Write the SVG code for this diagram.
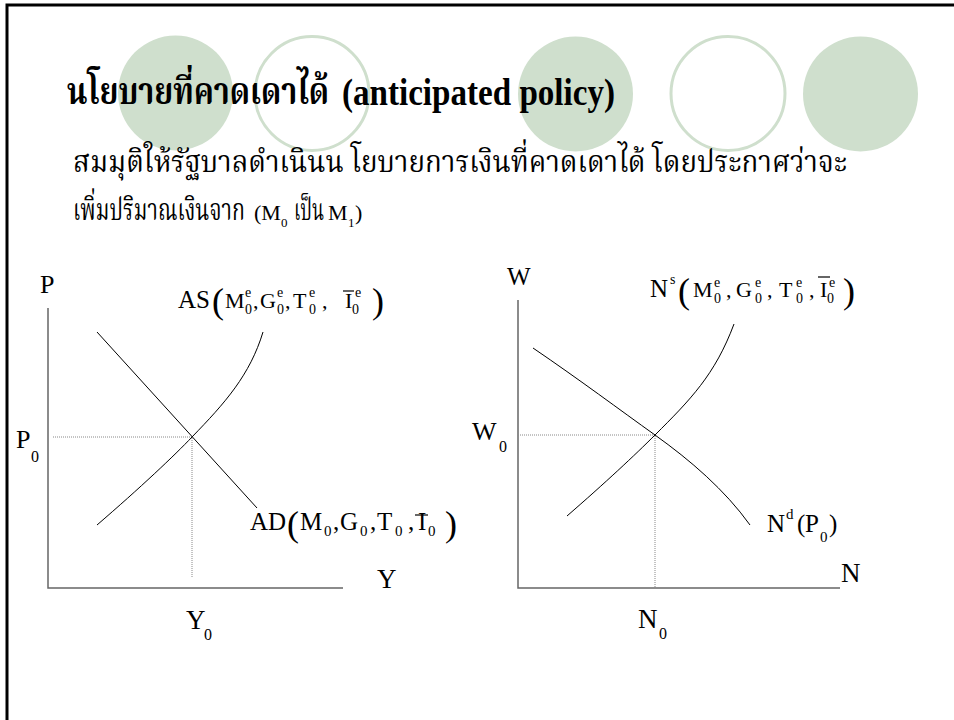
<svg xmlns="http://www.w3.org/2000/svg" width="954" height="720" viewBox="0 0 954 720">
<style>
.t{font-family:"Liberation Serif","Noto Serif Thai","Noto Sans Thai","DejaVu Serif",serif;fill:#000}
.l{font-family:"Liberation Serif","Times New Roman",serif;fill:#000}
.b{font-weight:bold}
.s{font-size:14px}
.m{font-size:22px}
.p{font-size:36px}
.ax{stroke:#666;stroke-width:1.5;fill:none}
.cv{stroke:#000;stroke-width:1;fill:none}
.dt{stroke:#888;stroke-width:1;stroke-dasharray:1 1;fill:none}
.ov{stroke:#000;stroke-width:1.2}
</style>
<rect width="954" height="720" fill="#fff"/>
<path d="M7,720 V5 H954" fill="none" stroke="#000" stroke-width="3"/>
<g id="decor">
<circle cx="175.5" cy="93" r="57.5" fill="#cfdfcd"/>
<circle cx="312" cy="93.5" r="57" fill="none" stroke="#cfdfcd" stroke-width="3"/>
<circle cx="575.5" cy="94" r="57.5" fill="#cfdfcd"/>
<circle cx="728" cy="93.5" r="57" fill="none" stroke="#cfdfcd" stroke-width="3"/>
<circle cx="860.5" cy="94" r="57.5" fill="#cfdfcd"/>
</g>
<g id="title">
<text class="t b" x="67" y="104" font-size="37" textLength="262" lengthAdjust="spacingAndGlyphs">นโยบายที่คาดเดาได้</text>
<text class="l b" x="342" y="105" font-size="37" textLength="273" lengthAdjust="spacingAndGlyphs">(anticipated policy)</text>
</g>
<g id="body">
<text class="t" x="73" y="172" font-size="31" textLength="774" lengthAdjust="spacingAndGlyphs">สมมุติให้รัฐบาลดำเนินน โยบายการเงินที่คาดเดาได้ โดยประกาศว่าจะ</text>
<text class="t" x="73" y="220" font-size="31" textLength="172" lengthAdjust="spacingAndGlyphs">เพิ่มปริมาณเงินจาก</text>
<text class="l" x="254" y="220" font-size="22">(M</text>
<text class="l" x="281" y="227" font-size="13">0</text>
<text class="t" x="294" y="220" font-size="31" textLength="30" lengthAdjust="spacingAndGlyphs">เป็น</text>
<text class="l" x="328" y="220" font-size="22">M</text>
<text class="l" x="348" y="227" font-size="13">1</text>
<text class="l" x="355" y="220" font-size="22">)</text>
</g>
<g id="axes">
<path class="ax" d="M48,308 V588 H343"/>
<path class="ax" d="M518,300 V588 H840"/>
</g>
<g id="connectors">
<path class="dt" d="M53,437 H192 V578"/>
<path class="dt" d="M518,435 H655 V588"/>
<path id="AD" class="cv" d="M97,332 L257,508"/>
<path id="AS" class="cv" d="M97,525 C140,488 175,455 192,437 C225,403 250,375 263,332"/>
<path id="Ns" class="cv" d="M567,516 C605,483 635,455 655,435 C690,400 715,375 734,324"/>
<path id="Nd" class="cv" d="M533,348 C580,380 620,410 655,435 C690,460 725,490 750,525"/>
</g>
<g id="labels-left">
<text class="l" x="40" y="293" font-size="26">P</text>
<text class="l" x="16" y="448" font-size="26">P</text><text class="l" x="31" y="462" font-size="16">0</text>
<text class="l" x="377" y="588" font-size="27">Y</text>
<text class="l" x="186" y="629" font-size="27">Y</text><text class="l" x="204" y="640" font-size="16">0</text>
</g>
<g id="label-AS">
<text class="l" x="178" y="308" font-size="25">AS</text>
<text class="l p" x="212" y="313">(</text>
<text class="l m" x="225" y="308">M</text><text class="l s" x="245" y="297">e</text><text class="l s" x="245" y="314">0</text>
<text class="l m" x="253" y="308">,</text>
<text class="l m" x="260" y="308">G</text><text class="l s" x="277" y="297">e</text><text class="l s" x="277" y="314">0</text>
<text class="l m" x="285" y="308">,</text>
<text class="l m" x="293" y="308">T</text><text class="l s" x="309" y="297">e</text><text class="l s" x="309" y="314">0</text>
<text class="l m" x="322" y="308">,</text>
<text class="l m" x="345" y="308">I</text><line class="ov" x1="343" y1="291" x2="354" y2="291"/><text class="l s" x="355" y="297">e</text><text class="l s" x="352" y="314">0</text>
<text class="l p" x="372" y="313">)</text>
</g>
<g id="label-AD">
<text class="l" x="250" y="530" font-size="25">AD</text>
<text class="l p" x="287" y="536">(</text>
<text class="l" x="300" y="530" font-size="25">M</text><text class="l" x="324" y="536" font-size="15">0</text>
<text class="l" x="333" y="530" font-size="25">,</text>
<text class="l" x="340" y="530" font-size="25">G</text><text class="l" x="360" y="536" font-size="15">0</text>
<text class="l" x="370" y="530" font-size="25">,</text>
<text class="l" x="377" y="530" font-size="25">T</text><text class="l" x="395" y="536" font-size="15">0</text>
<text class="l" x="408" y="530" font-size="25">,</text>
<text class="l" x="418" y="530" font-size="25">I</text><line class="ov" x1="415" y1="515" x2="428" y2="515"/><text class="l" x="428" y="536" font-size="15">0</text>
<text class="l p" x="445" y="536">)</text>
</g>
<g id="labels-right">
<text class="l" x="507" y="285" font-size="25">W</text>
<text class="l" x="472" y="440" font-size="26">W</text><text class="l" x="499" y="452" font-size="16">0</text>
<text class="l" x="841" y="582" font-size="27">N</text>
<text class="l" x="638" y="628" font-size="27">N</text><text class="l" x="659" y="639" font-size="16">0</text>
</g>
<g id="label-Ns">
<text class="l" x="650" y="297" font-size="25">N</text><text class="l s" x="670" y="284">s</text>
<text class="l p" x="678" y="303">(</text>
<text class="l m" x="693" y="297">M</text><text class="l s" x="714" y="287">e</text><text class="l s" x="714" y="303">0</text>
<text class="l m" x="726" y="297">,</text>
<text class="l m" x="736" y="297">G</text><text class="l s" x="755" y="287">e</text><text class="l s" x="755" y="303">0</text>
<text class="l m" x="767" y="297">,</text>
<text class="l m" x="779" y="297">T</text><text class="l s" x="796" y="287">e</text><text class="l s" x="796" y="303">0</text>
<text class="l m" x="809" y="297">,</text>
<text class="l m" x="820" y="297">I</text><line class="ov" x1="818" y1="277" x2="830" y2="277"/><text class="l s" x="829" y="287">e</text><text class="l s" x="827" y="303">0</text>
<text class="l p" x="843" y="303">)</text>
</g>
<g id="label-Nd">
<text class="l" x="767" y="532" font-size="25">N</text><text class="l" x="786" y="519" font-size="15">d</text>
<text class="l" x="797" y="532" font-size="25">(</text>
<text class="l" x="805" y="532" font-size="25">P</text><text class="l" x="820" y="542" font-size="15">0</text>
<text class="l" x="829" y="532" font-size="25">)</text>
</g>
</svg>
